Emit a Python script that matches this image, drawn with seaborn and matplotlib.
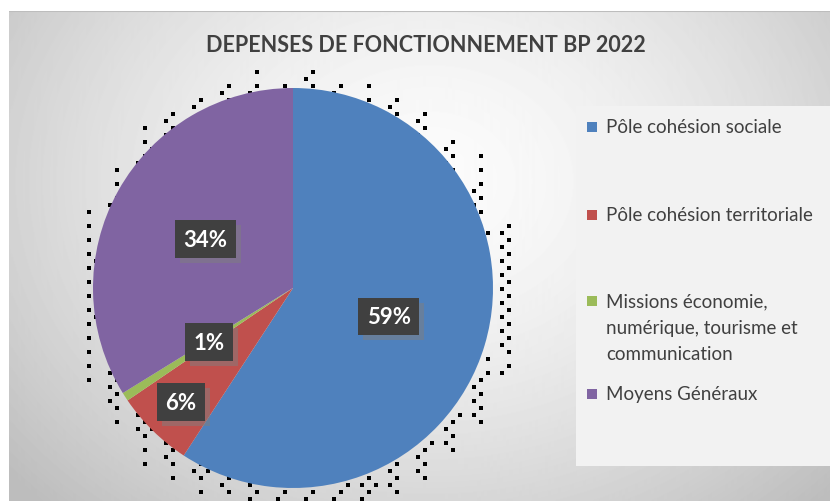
import numpy as np
import matplotlib
matplotlib.use("Agg")
import matplotlib.pyplot as plt
from matplotlib.patches import Rectangle
import seaborn as sns

# data
categories = ["Pôle cohésion sociale",
              "Pôle cohésion territoriale",
              "Missions économie,\nnumérique, tourisme et\ncommunication",
              "Moyens Généraux"]
shares = [59.2, 6.3, 0.7, 33.8]
colors = ["#4F81BD", "#C0504D", "#9BBB59", "#8064A2"]
title = "DEPENSES DE FONCTIONNEMENT BP 2022"

sns.set_theme(style="white")
plt.rcParams["font.family"] = ["Lato", "DejaVu Sans"]

W, H = 830, 502
fig = plt.figure(figsize=(W / 100, H / 100), dpi=100)
fig.patch.set_facecolor("white")

# chart area background: soft radial gradient
bg = fig.add_axes([9 / W, 0, (W - 9) / W, (H - 12) / H])
yy, xx = np.mgrid[0:490, 0:821]
d = np.hypot((xx - 420) / 520, (yy - 170) / 420)
grad = np.clip(0.985 - 0.22 * d ** 1.6, 0.74, 1)
bg.imshow(grad, cmap="gray", vmin=0, vmax=1, aspect="auto",
          extent=[0, 1, 0, 1], origin="upper")
bg.plot([0, 1], [1, 1], color="#bdbdbd", lw=1.5, transform=bg.transAxes)
bg.set_axis_off()

# pie axes: centre (293, 289) px, radius 200 px
cx, cy, R = 293, 289, 200
ext = 1.25
ax = fig.add_axes([(cx - R * ext) / W, (H - cy - R * ext) / H,
                   2 * R * ext / W, 2 * R * ext / H])
ax.set_xlim(-ext, ext)
ax.set_ylim(-ext, ext)
ax.set_axis_off()
ax.patch.set_alpha(0)

# dithered shadow around the pie
step = 7 / R
gx = np.arange(-1.3, 1.3, step)
bayer = np.array([[0, 8, 2, 10], [12, 4, 14, 6], [3, 11, 1, 9], [15, 7, 13, 5]]) / 16
px, py = [], []
for i, x in enumerate(gx):
    for j, y in enumerate(gx):
        if (i + j) % 2:
            continue
        r = np.hypot(x - 0.03, y + 0.03)
        if r < 0.98:
            continue
        dens = 0.75 * (1 - (r - 0.98) / 0.17)
        if bayer[(i // 2) % 4, j % 4] < dens:
            px.append(x)
            py.append(y)
ax.scatter(px, py, marker="s", s=8, color="black", linewidths=0, zorder=1)

wedges, _, autotexts = ax.pie(
    shares, colors=colors, startangle=90, counterclock=False,
    autopct="%.0f%%", pctdistance=0.5, radius=1,
    wedgeprops=dict(linewidth=0), textprops=dict(color="white"))
for w in wedges:
    w.set_zorder(2)

label_dist = [0.5, 0.8, 0.5, 0.5]
for w, t, dist in zip(wedges, autotexts, label_dist):
    ang = np.deg2rad((w.theta1 + w.theta2) / 2)
    t.set_position((dist * np.cos(ang), dist * np.sin(ang)))
    t.set_fontsize(16)
    t.set_fontweight("bold")
    t.set_zorder(5)
    t.set_bbox(dict(boxstyle="square,pad=0.38", facecolor="#404040", edgecolor="none"))

# soft grey shadow behind each label box
fig.canvas.draw()
inv = ax.transData.inverted()
for t in autotexts:
    bb = t.get_bbox_patch().get_window_extent()
    (x0, y0), (x1, y1) = inv.transform([(bb.x0 + 5, bb.y0 - 5), (bb.x1 + 5, bb.y1 - 5)])
    ax.add_patch(Rectangle((x0, y0), x1 - x0, y1 - y0, facecolor="#7f7f7f",
                           alpha=0.5, edgecolor="none", zorder=4))

# title
fig.text(426 / W, 1 - 45 / H, title, ha="center", va="center",
         fontsize=15.5, fontweight="bold", color="#404040")

# legend panel
fig.patches.append(Rectangle((576 / W, (H - 467) / H), (W - 576) / W, 360 / H,
                             transform=fig.transFigure, facecolor="#f2f2f2",
                             edgecolor="none", zorder=1))
entry_y = [128, 216, 302, 395]
for lab, col, y in zip(categories, colors, entry_y):
    fig.patches.append(Rectangle((587 / W, (H - y - 5) / H), 10 / W, 10 / H,
                                 transform=fig.transFigure, facecolor=col,
                                 edgecolor="none", zorder=2))
    fig.text(606 / W, 1 - (y - 9) / H, lab, ha="left", va="top",
             fontsize=13.5, color="#404040", linespacing=1.68, zorder=3)

fig.savefig("out.png", dpi=100)
